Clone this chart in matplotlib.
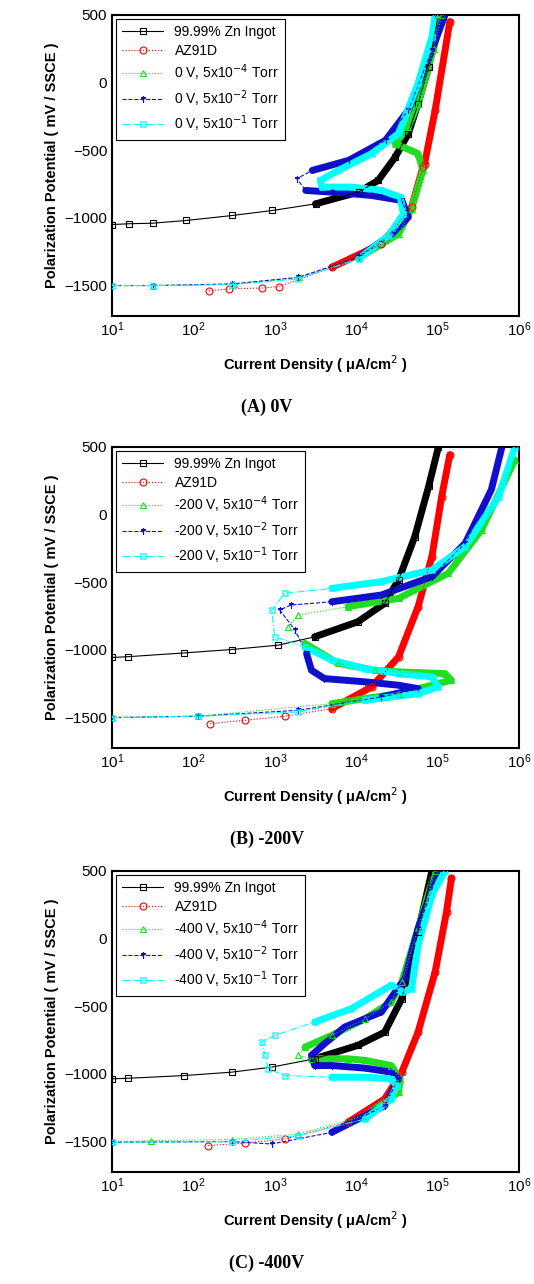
import numpy as np
import matplotlib
matplotlib.use("Agg")
import matplotlib.pyplot as plt

plt.rcParams.update({"font.family": ["Liberation Sans", "DejaVu Sans"]})

# each curve: log10(current density) and potential (mV)
zn_x = [[1.0, 1.21, 1.5, 1.91, 2.48, 2.97, 3.5, 4.03, 4.27, 4.48, 4.64, 4.76, 4.89, 5.01],
        [1.0, 1.2, 1.89, 2.47, 3.04, 3.49, 4.02, 4.35, 4.52, 4.72, 4.89, 5.01],
        [1.0, 1.2, 1.89, 2.47, 2.96, 3.49, 4.02, 4.35, 4.56, 4.76, 4.93]]
zn_y = [[-1049, -1043, -1039, -1019, -982, -945, -896, -809, -723, -550, -377, -155, 117, 500],
        [-1056, -1050, -1022, -997, -965, -903, -792, -656, -483, -162, 209, 500],
        [-1036, -1032, -1012, -987, -950, -888, -789, -691, -444, 50, 500]]
az_x = [[2.19, 2.44, 2.84, 3.05, 3.7, 4.31, 4.68, 4.82, 4.84, 4.97, 5.15],
        [2.2, 2.63, 3.12, 3.7, 4.19, 4.52, 4.76, 4.93, 5.05, 5.15],
        [2.18, 2.63, 3.12, 3.9, 4.35, 4.56, 4.76, 4.97, 5.11, 5.17]]
az_y = [[-1538, -1525, -1518, -1508, -1365, -1192, -920, -624, -599, -204, 451],
        [-1545, -1520, -1491, -1434, -1273, -1051, -681, -310, 134, 443],
        [-1530, -1511, -1481, -1357, -1185, -987, -691, -246, 199, 446]]
lo_x = [[1.5, 2.5, 3.3, 4.03, 4.52, 4.68, 4.82, 4.76, 4.48, 4.64, 4.76, 4.95, 5.05],
        [1.0, 2.06, 3.7, 4.52, 5.17, 5.09, 4.52, 4.23, 3.78, 3.37, 3.16, 3.29, 3.9, 4.52, 5.13, 5.54, 5.95],
        [1.0, 1.48, 2.47, 3.29, 4.11, 4.52, 4.54, 4.43, 4.11, 3.9, 3.45, 3.29, 3.37, 3.7, 4.11, 4.43, 4.56, 4.76, 4.97]]
lo_y = [[-1500, -1490, -1440, -1295, -1118, -932, -648, -525, -451, -327, -155, 250, 500],
        [-1500, -1490, -1397, -1323, -1224, -1175, -1162, -1150, -1100, -952, -829, -742, -680, -619, -434, -113, 406],
        [-1500, -1493, -1485, -1444, -1308, -1135, -1036, -938, -900, -888, -888, -863, -802, -715, -592, -468, -320, 75, 500]]
mid_x = [[1.0, 1.5, 2.48, 3.29, 4.03, 4.44, 4.64, 4.56, 4.19, 3.7, 3.38, 3.27, 3.46, 3.91, 4.36, 4.64, 4.93, 5.09],
         [1.0, 2.06, 3.29, 4.31, 4.76, 4.52, 4.11, 3.61, 3.45, 3.39, 3.25, 3.06, 3.2, 3.7, 4.31, 4.93, 5.34, 5.66, 5.79],
         [1.0, 2.47, 2.96, 3.7, 4.35, 4.52, 4.43, 4.11, 3.7, 3.49, 3.45, 3.61, 3.86, 4.31, 4.48, 4.6, 4.76, 5.01]]
mid_y = [[-1500, -1500, -1488, -1439, -1291, -1118, -994, -871, -834, -809, -797, -710, -649, -574, -426, -204, 241, 500],
         [-1500, -1490, -1446, -1348, -1286, -1261, -1236, -1212, -1150, -1026, -854, -705, -668, -644, -594, -458, -211, 184, 500],
         [-1505, -1500, -1518, -1432, -1234, -1036, -987, -957, -938, -938, -863, -777, -653, -542, -394, -295, 75, 500]]
hi_x = [[1.0, 1.5, 2.48, 3.29, 4.03, 4.4, 4.58, 4.54, 4.31, 3.95, 3.58, 3.56, 3.78, 4.19, 4.52, 4.76, 4.93, 4.97],
        [1.0, 2.06, 3.29, 4.11, 4.76, 5.01, 4.93, 4.52, 4.11, 3.7, 3.37, 3.0, 2.96, 3.12, 3.7, 4.31, 4.93, 5.34, 5.75, 5.95],
        [1.0, 2.47, 3.29, 4.11, 4.43, 4.5, 4.43, 4.11, 3.7, 3.12, 2.92, 2.88, 2.84, 3.0, 3.49, 3.94, 4.43, 4.56, 4.68, 4.76, 4.93, 5.09]]
hi_y = [[-1500, -1500, -1493, -1451, -1303, -1130, -970, -846, -797, -772, -772, -723, -649, -525, -377, -6, 339, 500],
        [-1500, -1490, -1458, -1372, -1323, -1273, -1199, -1175, -1138, -1076, -977, -903, -705, -582, -545, -495, -409, -236, 134, 500],
        [-1505, -1500, -1456, -1333, -1185, -1086, -1036, -1024, -1024, -1012, -962, -863, -765, -715, -616, -518, -345, -394, -370, -48, 322, 500]]

biases = ["0 V", "-200 V", "-400 V"]
captions = ["(A) 0V", "(B) -200V", "(C) -400V"]
pressures = ["5x10$^{-4}$", "5x10$^{-2}$", "5x10$^{-1}$"]

fig = plt.figure(figsize=(5.34, 12.84), dpi=100)
tops = [15, 447, 871]
for i in range(3):
    t = tops[i]
    ax = fig.add_axes([112 / 534, 1 - (t + 301) / 1284, 407 / 534, 301 / 1284])
    series = [
        (zn_x[i], zn_y[i], "black", "s", "-", "99.99% Zn Ingot"),
        (az_x[i], az_y[i], "red", "o", ":", "AZ91D"),
        (lo_x[i], lo_y[i], "#22dd22", "^", ":", biases[i] + ", " + pressures[0] + " Torr"),
        (mid_x[i], mid_y[i], "#1010cc", "$\u2020$", "--", biases[i] + ", " + pressures[1] + " Torr"),
        (hi_x[i], hi_y[i], "cyan", "X", "-.", biases[i] + ", " + pressures[2] + " Torr"),
    ]
    for xs, ys, c, m, ls, lab in series:
        x = 10 ** np.array(xs)
        y = np.array(ys)
        # heavy band where the measured points pile up
        xd = np.where(x > 2e3, x, np.nan)
        ax.plot(xd, y, color=c, lw=5, solid_capstyle="round", zorder=2)
        ax.plot(x, y, color=c, ls=ls, lw=0.8, marker=m, ms=5, mfc="none",
                mec=c, mew=0.8, label=lab, zorder=3)
    ax.set_xscale("log")
    ax.set_xlim(10, 1e6)
    ax.set_ylim(-1725, 500)
    ax.set_yticks([500, 0, -500, -1000, -1500])
    ax.minorticks_off()
    ax.tick_params(labelsize=11, length=0)
    for s in ax.spines.values():
        s.set_linewidth(1.5)
    ax.set_ylabel("Polarization Potential ( mV / SSCE )", fontsize=10.5, fontweight="bold")
    ax.set_xlabel("Current Density ( \u03bcA/cm$^2$ )", fontsize=10.5, fontweight="bold", labelpad=10)
    leg = ax.legend(loc="upper left", fontsize=10, fancybox=False, framealpha=1,
                    edgecolor="black", handlelength=3, borderaxespad=0.3, labelspacing=0.35)
    leg.get_frame().set_linewidth(0.8)
    fig.text(0.5, 1 - (t + 397) / 1284, captions[i], ha="center", fontsize=13,
             fontweight="bold", family="Liberation Serif")

fig.savefig("out.png", dpi=100)
